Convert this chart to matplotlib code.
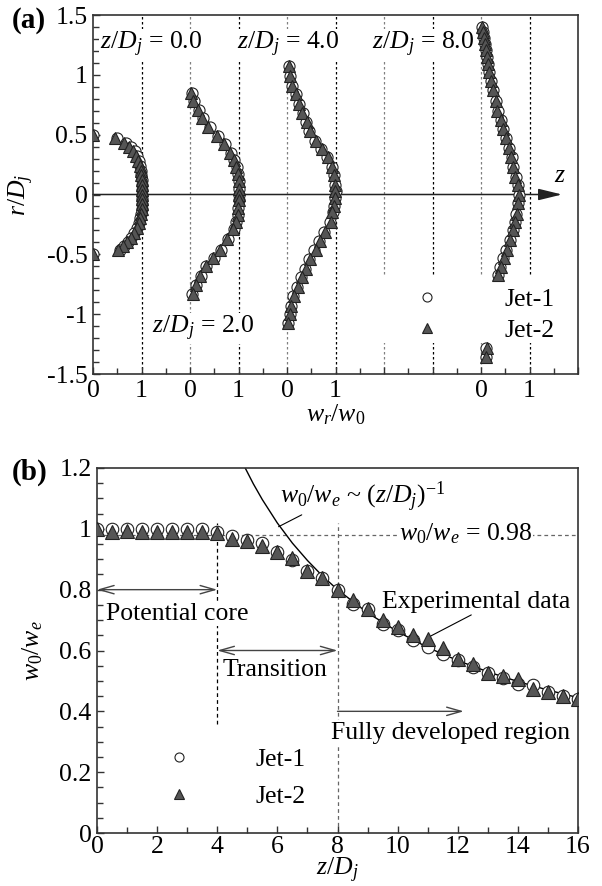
import matplotlib
matplotlib.use('Agg')
import matplotlib.pyplot as plt
from matplotlib.ticker import MultipleLocator, FixedLocator, FixedFormatter
from matplotlib.patches import Rectangle

plt.rcParams['font.family'] = ['Liberation Serif', 'DejaVu Serif']
plt.rcParams['mathtext.fontset'] = 'custom'
plt.rcParams['mathtext.rm'] = 'Liberation Serif'
plt.rcParams['mathtext.it'] = 'Liberation Serif:italic'
plt.rcParams['mathtext.bf'] = 'Liberation Serif:bold'
plt.rcParams['axes.unicode_minus'] = False

# ---------------- Panel (a): radial profiles ----------------
station_labels = ['0.0', '2.0', '4.0', '8.0']
station_offsets = [0, 2, 4, 8]

r_z0 = [0.50, 0.475, 0.43, 0.40, 0.36, 0.32, 0.28, 0.24, 0.20, 0.16, 0.12, 0.08, 0.04, 0.0,
        -0.04, -0.08, -0.12, -0.16, -0.20, -0.24, -0.28, -0.32, -0.36, -0.40, -0.43, -0.46, -0.50]
w_z0_jet2 = [0.0, 0.45, 0.64, 0.75, 0.83, 0.89, 0.93, 0.96, 0.98, 0.99, 1.0, 1.01, 1.01, 1.01,
             1.01, 1.01, 1.0, 0.99, 0.97, 0.94, 0.90, 0.85, 0.79, 0.71, 0.62, 0.52, 0.0]
w_z0_jet1 = [0.0, 0.50, 0.68, 0.79, 0.86, 0.91, 0.94, 0.96, 0.98, 0.99, 1.0, 1.01, 1.01, 1.01,
             1.01, 1.01, 1.0, 0.99, 0.97, 0.94, 0.90, 0.85, 0.79, 0.72, 0.63, 0.55, 0.0]

r_z2 = [0.85, 0.78, 0.71, 0.64, 0.56, 0.49, 0.42, 0.35, 0.29, 0.23, 0.17, 0.11, 0.05, 0.0,
        -0.05, -0.11, -0.17, -0.23, -0.29, -0.375, -0.46, -0.53, -0.60, -0.68, -0.76, -0.83]
w_z2_jet2 = [0.03, 0.06, 0.17, 0.24, 0.38, 0.55, 0.70, 0.82, 0.90, 0.95, 0.99, 1.0, 1.0, 1.0,
             1.0, 0.99, 0.98, 0.95, 0.89, 0.76, 0.62, 0.48, 0.32, 0.21, 0.12, 0.06]
w_z2_jet1 = [0.05, 0.08, 0.19, 0.27, 0.41, 0.58, 0.72, 0.84, 0.91, 0.96, 0.99, 1.0, 1.0, 1.0,
             1.0, 0.99, 0.98, 0.95, 0.90, 0.78, 0.64, 0.50, 0.34, 0.22, 0.13, 0.05]

r_z4 = [1.07, 0.99, 0.91, 0.84, 0.76, 0.68, 0.61, 0.53, 0.45, 0.38, 0.31, 0.23, 0.16, 0.08, 0.03,
        -0.03, -0.10, -0.15, -0.23, -0.31, -0.39, -0.46, -0.54, -0.62, -0.69, -0.77, -0.85, -0.93, -1.0, -1.07]
w_z4_jet2 = [0.05, 0.07, 0.10, 0.19, 0.24, 0.31, 0.41, 0.48, 0.60, 0.72, 0.85, 0.92, 0.97, 0.99, 0.99,
             0.99, 0.97, 0.93, 0.90, 0.79, 0.69, 0.59, 0.48, 0.39, 0.30, 0.23, 0.14, 0.09, 0.07, 0.02]
w_z4_jet1 = [0.04, 0.07, 0.11, 0.18, 0.24, 0.32, 0.40, 0.46, 0.57, 0.70, 0.83, 0.92, 0.97, 0.99, 1.0,
             0.99, 0.97, 0.94, 0.88, 0.77, 0.66, 0.56, 0.45, 0.37, 0.28, 0.21, 0.13, 0.09, 0.06, 0.03]

r_z8 = [1.40, 1.36, 1.31, 1.26, 1.21, 1.15, 1.09, 1.02, 0.95, 0.87, 0.78, 0.70, 0.62, 0.55, 0.47, 0.39,
        0.31, 0.23, 0.15, 0.08, 0.0, -0.075, -0.16, -0.23, -0.30, -0.38, -0.46, -0.53, -0.61, -0.67,
        -1.28, -1.36]
w_z8_jet2 = [0.03, 0.05, 0.07, 0.09, 0.10, 0.12, 0.14, 0.17, 0.21, 0.24, 0.30, 0.34, 0.41, 0.45, 0.52, 0.57,
             0.62, 0.66, 0.71, 0.76, 0.78, 0.77, 0.74, 0.71, 0.66, 0.60, 0.53, 0.47, 0.41, 0.36,
             0.12, 0.11]
w_z8_jet1 = [0.03, 0.05, 0.07, 0.09, 0.11, 0.12, 0.15, 0.17, 0.21, 0.25, 0.30, 0.35, 0.41, 0.46, 0.52, 0.58,
             0.63, 0.67, 0.72, 0.76, 0.78, 0.77, 0.73, 0.70, 0.65, 0.59, 0.52, 0.46, 0.40, 0.36,
             0.11, 0.10]

a_xtick_pos = [0, 1, 2, 3, 4, 5, 6, 7, 8, 9, 10]
a_xtick_lab = ['0', '1', '0', '1', '0', '1', '', '', '0', '1', '']
a_ytick_pos = [-1.5, -1, -0.5, 0, 0.5, 1, 1.5]
a_ytick_lab = ['-1.5', '-1', '-0.5', '0', '0.5', '1', '1.5']

# ---------------- Panel (b): centerline decay ----------------
z_b = [0, 0.5, 1, 1.5, 2, 2.5, 3, 3.5, 4, 4.5, 5, 5.5, 6, 6.5, 7, 7.5, 8, 8.5, 9, 9.5, 10,
       10.5, 11, 11.5, 12, 12.5, 13, 13.5, 14, 14.5, 15, 15.5, 16]
jet1_b = [1.0, 0.998, 1.0, 1.0, 1.0, 1.0, 1.0, 1.0, 0.99, 0.977, 0.963, 0.953, 0.924, 0.898, 0.862,
          0.837, 0.80, 0.753, 0.735, 0.687, 0.668, 0.635, 0.61, 0.59, 0.57, 0.546, 0.525, 0.51,
          0.49, 0.485, 0.465, 0.45, 0.44]
jet2_b = [1.0, 0.99, 0.993, 0.99, 0.99, 0.99, 0.99, 0.99, 0.987, 0.967, 0.961, 0.945, 0.924, 0.904,
          0.862, 0.837, 0.80, 0.767, 0.735, 0.70, 0.677, 0.65, 0.638, 0.608, 0.572, 0.555, 0.527,
          0.515, 0.505, 0.474, 0.465, 0.45, 0.44]
fit_z = [4.93, 5.2, 5.5, 6.0, 6.5, 7.0, 7.5, 8.0, 9.0, 10.0, 11.0, 12.0, 13.0, 14.0, 15.0, 16.0]
fit_w = [1.2, 1.148, 1.096, 1.019, 0.953, 0.896, 0.845, 0.800, 0.724, 0.662, 0.610, 0.567,
         0.530, 0.498, 0.470, 0.445]
core_level = 0.98
b_ytick_pos = [0, 0.2, 0.4, 0.6, 0.8, 1.0, 1.2]
b_ytick_lab = ['0', '0.2', '0.4', '0.6', '0.8', '1', '1.2']

FS = 18.5
TRI_FACE = '#555555'

fig = plt.figure(figsize=(6.02, 8.86), dpi=100)
axa = fig.add_axes([93/602, 1-374/886, 485/602, 359/886])
axb = fig.add_axes([97/602, 1-833/886, 481/602, 365/886])

for ax in (axa, axb):
    for s in ax.spines.values():
        s.set_linewidth(1.2)
        s.set_color('#333333')
    ax.tick_params(which='both', direction='in', top=False, right=False,
                   labelsize=FS, color='#333333', width=1.0, pad=4)
    ax.tick_params(which='major', length=5)
    ax.tick_params(which='minor', length=4)
axb.tick_params(axis='x', which='both', pad=2)

# ---- panel (a)
axa.set_xlim(0, 10)
axa.set_ylim(-1.5, 1.5)
axa.xaxis.set_major_locator(FixedLocator(a_xtick_pos))
axa.xaxis.set_major_formatter(FixedFormatter(a_xtick_lab))
axa.xaxis.set_minor_locator(MultipleLocator(0.5))
axa.yaxis.set_major_locator(FixedLocator(a_ytick_pos))
axa.yaxis.set_major_formatter(FixedFormatter(a_ytick_lab))
axa.yaxis.set_minor_locator(MultipleLocator(0.1))

for xv in range(1, 10):
    col = 'black' if xv % 2 == 1 else '#808080'
    axa.axvline(xv, color=col, lw=0.9, ls=(0, (2, 2)), zorder=1)

axa.add_patch(Rectangle((0.588, 0.086), 0.40, 0.187, transform=axa.transAxes,
                        facecolor='white', edgecolor='none', zorder=1.5))

axa.annotate('', xy=(9.67, 0), xytext=(0, 0),
             arrowprops=dict(arrowstyle='-|>, head_length=0.9, head_width=0.22', color='#222222',
                             lw=1.1, shrinkA=0, shrinkB=0, mutation_scale=16), zorder=2)
axa.text(9.63, 0.06, '$z$', fontsize=FS, ha='center', va='bottom')

profiles = [(r_z0, w_z0_jet1, w_z0_jet2), (r_z2, w_z2_jet1, w_z2_jet2),
            (r_z4, w_z4_jet1, w_z4_jet2), (r_z8, w_z8_jet1, w_z8_jet2)]
for (rr, w1, w2), off in zip(profiles, station_offsets):
    axa.plot([off + v for v in w1], rr, ls='none', marker='o', ms=8, mfc='white',
             mec='#222222', mew=0.8, zorder=3)
    axa.plot([off + v for v in w2], rr, ls='none', marker='^', ms=8.5, mfc=TRI_FACE,
             mec='#222222', mew=0.8, zorder=4)

bb = dict(facecolor='white', edgecolor='none', pad=1)
for lab, xp, yp in [(station_labels[0], 0.14, 1.25), (station_labels[2], 2.97, 1.25),
                    (station_labels[3], 5.75, 1.25), (station_labels[1], 1.22, -1.12)]:
    axa.text(xp, yp, '$z/D_j$ = ' + lab, fontsize=FS, va='center', ha='left', bbox=bb, zorder=2)

h1, = axa.plot([], [], ls='none', marker='o', ms=6.5, mfc='white', mec='#222222', mew=0.8)
h2, = axa.plot([], [], ls='none', marker='^', ms=7, mfc=TRI_FACE, mec='#222222', mew=0.8)
axa.legend([h1, h2], ['Jet-1', 'Jet-2'], loc='center left', bbox_to_anchor=(0.662, 0.165),
           frameon=False, fontsize=FS, handlelength=1.0, handletextpad=2.5,
           borderpad=0, borderaxespad=0, labelspacing=0.3)

axa.set_xlabel('$w_r/w_0$', fontsize=FS)
axa.xaxis.set_label_coords(0.5, -0.078)
axa.set_ylabel('$r/D_j$', fontsize=FS)
axa.yaxis.set_label_coords(-0.118, 0.5)

# ---- panel (b)
axb.set_xlim(0, 16)
axb.set_ylim(0, 1.2)
axb.xaxis.set_major_locator(MultipleLocator(2))
axb.xaxis.set_minor_locator(MultipleLocator(1))
axb.yaxis.set_major_locator(FixedLocator(b_ytick_pos))
axb.yaxis.set_major_formatter(FixedFormatter(b_ytick_lab))
axb.yaxis.set_minor_locator(MultipleLocator(0.05))

axb.axhline(core_level, color='#666666', lw=0.9, ls=(0, (3, 2.5)), zorder=1)
axb.plot([4, 4], [0.36, 1.02], color='black', lw=0.9, ls=(0, (3, 2.5)), zorder=1)
axb.plot([8, 8], [0.0, 1.02], color='#666666', lw=0.9, ls=(0, (3, 2.5)), zorder=1)

axb.plot(fit_z, fit_w, color='black', lw=1.0, zorder=2)

axb.plot(z_b, jet1_b, ls='none', marker='o', ms=9, mfc='white', mec='#222222', mew=0.8, zorder=3)
axb.plot(z_b, jet2_b, ls='none', marker='^', ms=9.5, mfc=TRI_FACE, mec='#222222', mew=0.8, zorder=4)

arr = dict(color='#444444', lw=1.0, shrinkA=0, shrinkB=0, mutation_scale=15)
axb.annotate('', xy=(0, 0.8), xytext=(4, 0.8),
             arrowprops=dict(arrowstyle='<->, head_length=0.7, head_width=0.2', **arr))
axb.annotate('', xy=(4, 0.6), xytext=(8, 0.6),
             arrowprops=dict(arrowstyle='<->, head_length=0.7, head_width=0.2', **arr))
axb.annotate('', xy=(12.2, 0.40), xytext=(8, 0.40),
             arrowprops=dict(arrowstyle='->, head_length=0.7, head_width=0.2', **arr))

axb.text(0.3, 0.72, 'Potential core', fontsize=FS, ha='left', va='center', bbox=bb, zorder=2)
axb.text(5.93, 0.535, 'Transition', fontsize=FS, ha='center', va='center', bbox=bb, zorder=2)
axb.text(11.75, 0.33, 'Fully developed region', fontsize=FS, ha='center', va='center', bbox=bb, zorder=2)
axb.text(12.6, 0.76, 'Experimental data', fontsize=FS, ha='center', va='center', zorder=2)
axb.annotate('', xy=(11.05, 0.645), xytext=(12.45, 0.717),
             arrowprops=dict(arrowstyle='-', color='black', lw=0.8, shrinkA=0, shrinkB=0))
axb.text(8.85, 1.105, '$w_0/w_e$ ~ $(z/D_j)^{-1}$', fontsize=FS, ha='center', va='center', zorder=2)
axb.annotate('', xy=(6.04, 1.007), xytext=(6.81, 1.046),
             arrowprops=dict(arrowstyle='-', color='black', lw=0.8, shrinkA=0, shrinkB=0))
axb.text(12.25, 0.985, '$w_0/w_e$ = 0.98', fontsize=FS, ha='center', va='center', bbox=bb, zorder=2)

g1, = axb.plot([], [], ls='none', marker='o', ms=6.5, mfc='white', mec='#222222', mew=0.8)
g2, = axb.plot([], [], ls='none', marker='^', ms=7, mfc=TRI_FACE, mec='#222222', mew=0.8)
axb.legend([g1, g2], ['Jet-1', 'Jet-2'], loc='center left', bbox_to_anchor=(0.1435, 0.151),
           frameon=False, fontsize=FS, handlelength=1.0, handletextpad=2.5,
           borderpad=0, borderaxespad=0, labelspacing=0.55)

axb.set_xlabel('$z/D_j$', fontsize=FS)
axb.xaxis.set_label_coords(0.5, -0.062)
axb.set_ylabel('$w_0/w_e$', fontsize=FS)
axb.yaxis.set_label_coords(-0.108, 0.5)

fig.text(12/602, 1-21/886, '(a)', fontsize=21, fontweight='bold', ha='left', va='center')
fig.text(12/602, 1-472/886, '(b)', fontsize=21, fontweight='bold', ha='left', va='center')

fig.savefig('out.png', dpi=100)
